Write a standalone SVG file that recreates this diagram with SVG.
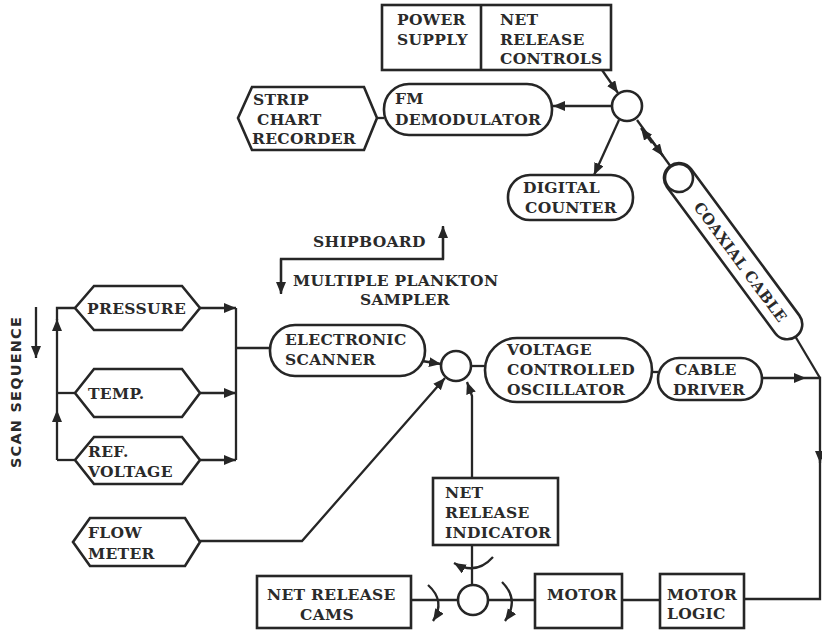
<svg xmlns="http://www.w3.org/2000/svg" width="822" height="630" viewBox="0 0 822 630">
<defs>
<style>
.n{fill:#fff;stroke:#262626;stroke-width:2.6}
.c{fill:none;stroke:#262626;stroke-width:2.3}
text{font-family:"DejaVu Serif","Liberation Serif",serif;font-size:15.5px;font-weight:bold;fill:#2a2a2a;letter-spacing:0.3px}
</style>
<marker id="a" markerUnits="userSpaceOnUse" markerWidth="14" markerHeight="12" refX="12" refY="5" orient="auto">
<path d="M0,0 L12,5 L0,10 Z" fill="#262626"/>
</marker>
</defs>
<rect width="822" height="630" fill="#fff"/>

<g id="connectors">
<path class="c" d="M602,70 L618,93" marker-end="url(#a)"/>
<path class="c" d="M612,106 L553,106" marker-end="url(#a)"/>
<path class="c" d="M377,118 L384,118"/>
<path class="c" d="M619,120 L594,175" marker-end="url(#a)"/>
<path class="c" d="M637,120 L679,178"/>
<path class="c" d="M652,143 L641,128" marker-end="url(#a)"/>
<path class="c" d="M652,141 L663,156" marker-end="url(#a)"/>
<path class="c" d="M795,336 L820,378"/>
<path class="c" d="M762,378 L806,378" marker-end="url(#a)"/>
<path class="c" d="M806,378 L820,378 L820,463" marker-end="url(#a)"/>
<path class="c" d="M820,460 L820,599 L744,599"/>
<path class="c" d="M443,227 L443,259 L281,259 L281,293"/>
<path class="c" d="M443,259 L443,226" marker-end="url(#a)"/>
<path class="c" d="M281,259 L281,294" marker-end="url(#a)"/>
<path class="c" d="M36,307 L36,358" marker-end="url(#a)"/>
<path class="c" d="M57,460 L57,410" marker-end="url(#a)"/>
<path class="c" d="M57,410 L57,319" marker-end="url(#a)"/>
<path class="c" d="M57,320 L57,308 L75,308"/>
<path class="c" d="M57,393 L75,393"/>
<path class="c" d="M57,460 L75,460"/>
<path class="c" d="M200,308 L236,308" marker-end="url(#a)"/>
<path class="c" d="M200,393 L236,393" marker-end="url(#a)"/>
<path class="c" d="M200,460 L236,460" marker-end="url(#a)"/>
<path class="c" d="M236,308 L236,460 M236,348 L270,348"/>
<path class="c" d="M422,361 L441,364" marker-end="url(#a)"/>
<path class="c" d="M200,541 L302,541 L445,378" marker-end="url(#a)"/>
<path class="c" d="M472,478 L472,396 L467,382" marker-end="url(#a)"/>
<path class="c" d="M471,366 L485,366"/>
<path class="c" d="M652,372 L658,372"/>
<path class="c" d="M472,545 L472,585"/>
<path class="c" d="M493,557 Q476,576 454,563" marker-end="url(#a)"/>
<path class="c" d="M428,585 Q446,601 433,621" marker-end="url(#a)"/>
<path class="c" d="M502,582 Q520,600 505,621" marker-end="url(#a)"/>
<path class="c" d="M411,600 L458,600 M488,600 L535,600 M622,600 L660,600"/>
</g>

<g id="power-controls">
<rect class="n" x="382" y="5" width="229" height="65"/>
<line class="n" x1="481" y1="5" x2="481" y2="70"/>
<text x="397" y="25">POWER</text><text x="397" y="45">SUPPLY</text>
<text x="500" y="25">NET</text><text x="500" y="45">RELEASE</text><text x="500" y="64">CONTROLS</text>
</g>
<g id="junction-top"><circle class="n" cx="627" cy="106" r="15"/></g>
<g id="fm-demodulator">
<rect class="n" x="384" y="84" width="168" height="51" rx="25"/>
<text x="395" y="104">FM</text><text x="395" y="125">DEMODULATOR</text>
</g>
<g id="strip-chart">
<polygon class="n" points="238,118 252,87 364,87 377,118 364,150 252,150"/>
<text x="253" y="105">STRIP</text><text x="257" y="125">CHART</text><text x="252" y="144">RECORDER</text>
</g>
<g id="digital-counter">
<rect class="n" x="508" y="175" width="125" height="45" rx="22"/>
<text x="523" y="193">DIGITAL</text><text x="525" y="213">COUNTER</text>
</g>
<g id="coaxial-cable" transform="translate(679,178) rotate(53.5)">
<rect class="n" x="-15" y="-15" width="212" height="30" rx="15"/>
<circle class="n" cx="0" cy="0" r="14"/>
<text x="104" y="6" text-anchor="middle" style="font-size:15px">COAXIAL CABLE</text>
</g>
<g id="shipboard-label">
<text x="313" y="247">SHIPBOARD</text>
<text x="293" y="286">MULTIPLE PLANKTON</text>
<text x="360" y="305">SAMPLER</text>
</g>
<g id="scan-sequence">
<text transform="translate(21,392) rotate(-90)" text-anchor="middle" style="font-family:'DejaVu Sans','Liberation Sans',sans-serif;font-weight:bold;font-size:14.5px;letter-spacing:1.2px">SCAN SEQUENCE</text>
</g>
<g id="pressure">
<polygon class="n" points="75,308 94,286 182,286 200,308 182,330 94,330"/>
<text x="87" y="314">PRESSURE</text>
</g>
<g id="temp">
<polygon class="n" points="75,393 94,369 182,369 200,393 182,417 94,417"/>
<text x="88" y="399">TEMP.</text>
</g>
<g id="ref-voltage">
<polygon class="n" points="75,460 94,437 182,437 200,460 182,484 94,484"/>
<text x="88" y="457">REF.</text><text x="88" y="477">VOLTAGE</text>
</g>
<g id="flow-meter">
<polygon class="n" points="73,542 90,518 185,518 200,542 185,566 90,566"/>
<text x="88" y="538">FLOW</text><text x="88" y="559">METER</text>
</g>
<g id="electronic-scanner">
<rect class="n" x="270" y="325" width="155" height="51" rx="25"/>
<text x="285" y="345">ELECTRONIC</text><text x="285" y="365">SCANNER</text>
</g>
<g id="junction-mid"><circle class="n" cx="456" cy="366" r="15"/></g>
<g id="vco">
<rect class="n" x="485" y="338" width="167" height="64" rx="32"/>
<text x="507" y="355">VOLTAGE</text><text x="507" y="375">CONTROLLED</text><text x="507" y="395">OSCILLATOR</text>
</g>
<g id="cable-driver">
<rect class="n" x="658" y="358" width="104" height="42" rx="21"/>
<text x="675" y="375">CABLE</text><text x="673" y="395">DRIVER</text>
</g>
<g id="net-release-indicator">
<rect class="n" x="433" y="478" width="125" height="67"/>
<text x="445" y="498">NET</text><text x="445" y="518">RELEASE</text><text x="445" y="538">INDICATOR</text>
</g>
<g id="net-release-cams">
<rect class="n" x="257" y="576" width="154" height="52"/>
<text x="267" y="600">NET RELEASE</text><text x="300" y="620">CAMS</text>
</g>
<g id="junction-bottom"><circle class="n" cx="473" cy="600" r="15"/></g>
<g id="motor">
<rect class="n" x="535" y="574" width="87" height="54"/>
<text x="547" y="600">MOTOR</text>
</g>
<g id="motor-logic">
<rect class="n" x="660" y="574" width="84" height="54"/>
<text x="667" y="600">MOTOR</text><text x="667" y="619">LOGIC</text>
</g>
</svg>
